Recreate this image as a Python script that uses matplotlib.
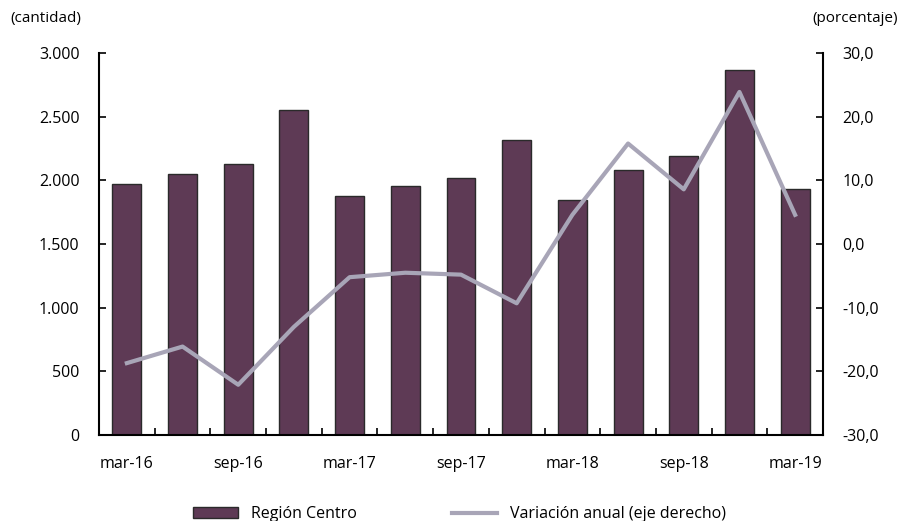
import matplotlib.pyplot as plt
from matplotlib.patches import Patch
from matplotlib.lines import Line2D
import numpy as np

# Quarterly data, Región Centro
periods = ['mar-16', 'jun-16', 'sep-16', 'dic-16', 'mar-17', 'jun-17', 'sep-17',
           'dic-17', 'mar-18', 'jun-18', 'sep-18', 'dic-18', 'mar-19']
cantidad = [1970, 2050, 2128, 2552, 1877, 1955, 2018, 2317, 1846, 2081, 2191, 2867, 1932]
variacion = [-18.7, -16.1, -22.1, -13.0, -5.2, -4.5, -4.8, -9.3, 4.6, 15.8, 8.6, 23.9, 4.6]

bar_color = '#5e3a55'
line_color = '#a8a5b7'

plt.rcParams['font.family'] = ['Open Sans', 'DejaVu Sans']

fig = plt.figure(figsize=(9.01, 5.21), dpi=100)
ax = fig.add_axes([0.1099, 0.165, 0.8035, 0.733])
x = np.arange(len(periods))
ax.bar(x, cantidad, width=0.52, color=bar_color, edgecolor='#2a2a2a', linewidth=1.0, zorder=2)
ax.set_xlim(-0.5, len(periods) - 0.5)
ax.set_ylim(0, 3000)
ax.set_yticks(np.arange(0, 3001, 500))
ax.set_yticklabels([format(v, ',').replace(',', '.') for v in range(0, 3001, 500)], fontsize=11.5)
ax.set_xticks(np.arange(-0.5, len(periods), 1.0))
ax.set_xticklabels([])
ax.set_xticks(x[::2], minor=True)
ax.set_xticklabels(periods[::2], minor=True, fontsize=11.5)
ax.tick_params(axis='x', which='major', direction='in', length=5, width=1.2)
ax.tick_params(axis='x', which='minor', length=0, pad=15)
ax.tick_params(axis='y', direction='in', length=5, width=1.2, pad=14)
ax.spines['top'].set_visible(False)
ax.spines['right'].set_visible(False)
for s in ['left', 'bottom']:
    ax.spines[s].set_linewidth(1.5)

ax2 = ax.twinx()
ax2.plot(x, variacion, color=line_color, linewidth=3, zorder=3)
ax2.set_ylim(-30, 30)
ax2.set_yticks(np.arange(-30, 31, 10))
ax2.set_yticklabels([format(v, '.1f').replace('.', ',') for v in np.arange(-30, 31, 10)], fontsize=11.5)
ax2.tick_params(axis='y', direction='in', length=5, width=1.2, pad=14)
ax2.spines['top'].set_visible(False)
ax2.spines['left'].set_visible(False)
ax2.spines['bottom'].set_visible(False)
ax2.spines['right'].set_linewidth(1.5)

fig.text(0.011, 0.965, '(cantidad)', fontsize=11, ha='left', va='center')
fig.text(0.996, 0.965, '(porcentaje)', fontsize=11, ha='right', va='center')

handles = [Patch(facecolor=bar_color, edgecolor='#2a2a2a', label='Región Centro'),
           Line2D([0], [0], color=line_color, linewidth=3, label='Variación anual (eje derecho)')]
fig.legend(handles=handles, loc='lower center', bbox_to_anchor=(0.51, -0.03), ncol=2,
           frameon=False, fontsize=11.5, handlelength=2.8, columnspacing=6.0)

plt.savefig('out.png', dpi=100)
